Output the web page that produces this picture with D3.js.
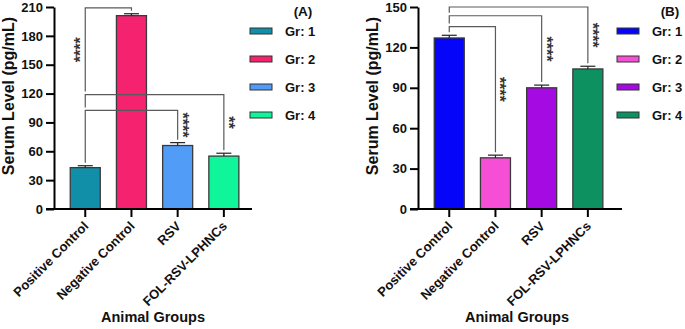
<!DOCTYPE html>
<html>
<head>
<meta charset="utf-8">
<script src="https://cdn.jsdelivr.net/npm/d3@7"></script>
<style>
  body { margin: 0; background: #fff; }
  text { font-family: "Liberation Sans", Arial, sans-serif; font-weight: bold; }
</style>
</head>
<body>
<script>
// categories and legend
const groups = ["Positive Control", "Negative Control", "RSV", "FOL-RSV-LPHNCs"];
const legendLabels = ["Gr: 1", "Gr: 2", "Gr: 3", "Gr: 4"];

// panel A values (mean, SD)
const valuesA = [43, 201, 66, 55];
const errorsA = [2, 2, 3, 3];
const ticksA = [0, 30, 60, 90, 120, 150, 180, 210];
const colorsA = ["#128fa8", "#f5236f", "#519cf7", "#0ff59a"];
// significance brackets: from group, to group, level (pg/mL), label, side of the stars
const bracketsA = [
    [0, 1, 209, "****", "left"],
    [0, 3, 119, "**", "right"],
    [0, 2, 102.5, "****", "right"]
];

// panel B values
const valuesB = [127, 38, 90, 104];
const errorsB = [2, 2, 2, 2];
const ticksB = [0, 30, 60, 90, 120, 150];
const colorsB = ["#0505fa", "#f550d5", "#a60ae2", "#0e9160"];
const bracketsB = [
    [0, 3, 150, "****", "right"],
    [0, 2, 143.5, "****", "right"],
    [0, 1, 135.5, "****", "right"]
];

const svg = d3.select("body")
    .append("svg")
    .attr("width", 685)
    .attr("height", 329);

drawPanel({
    left: 54, width: 198, legendLeft: 196, tag: "(A)",
    values: valuesA, errors: errorsA, ticks: ticksA, colors: colorsA, brackets: bracketsA
});
drawPanel({
    left: 418, width: 204, legendLeft: 199, tag: "(B)",
    values: valuesB, errors: errorsB, ticks: ticksB, colors: colorsB, brackets: bracketsB
});

function drawPanel(p) {
    const top = 7, bottom = 209;
    const g = svg.append("g").attr("transform", `translate(${p.left},0)`);

    const x = d3.scaleBand()
        .domain(groups)
        .range([7, 7 + 46.2 * (4 - 0.35 + 0.4)])
        .paddingInner(0.35)
        .paddingOuter(0.2);

    const y = d3.scaleLinear()
        .domain([0, d3.max(p.ticks)])
        .range([bottom, top]);

    //Y axis
    const yAxis = g.append("g")
        .call(d3.axisLeft(y).tickValues(p.ticks).tickSize(8).tickPadding(3).tickSizeOuter(0));
    yAxis.select(".domain").attr("stroke", "#000").attr("stroke-width", 2);
    yAxis.selectAll(".tick line").attr("stroke", "#000").attr("stroke-width", 2);
    yAxis.selectAll(".tick text")
        .attr("font-size", 13)
        .attr("font-family", "Liberation Sans, Arial, sans-serif")
        .attr("font-weight", "bold")
        .attr("fill", "#111");

    //Bars
    g.selectAll("rect.bar")
        .data(p.values)
        .enter()
        .append("rect")
        .attr("class", "bar")
        .attr("x", (d, i) => x(groups[i]))
        .attr("y", d => y(d))
        .attr("width", x.bandwidth())
        .attr("height", d => y(0) - y(d))
        .attr("fill", (d, i) => p.colors[i])
        .attr("stroke", "#3a3a3a")
        .attr("stroke-width", 1.3);

    //Error bars
    const eb = g.selectAll("g.err")
        .data(p.values)
        .enter()
        .append("g")
        .attr("class", "err")
        .attr("stroke", "#222")
        .attr("stroke-width", 1.2);
    eb.append("line")
        .attr("x1", (d, i) => x(groups[i]) + x.bandwidth() / 2)
        .attr("x2", (d, i) => x(groups[i]) + x.bandwidth() / 2)
        .attr("y1", d => y(d))
        .attr("y2", (d, i) => y(d + p.errors[i]));
    eb.append("line")
        .attr("x1", (d, i) => x(groups[i]) + x.bandwidth() / 2 - 7.5)
        .attr("x2", (d, i) => x(groups[i]) + x.bandwidth() / 2 + 7.5)
        .attr("y1", (d, i) => y(d + p.errors[i]))
        .attr("y2", (d, i) => y(d + p.errors[i]));

    //X axis (line runs from the y tick to the right end)
    g.append("line")
        .attr("x1", -8).attr("x2", p.width)
        .attr("y1", bottom).attr("y2", bottom)
        .attr("stroke", "#000").attr("stroke-width", 2);
    groups.forEach(function (name) {
        const cx = x(name) + x.bandwidth() / 2;
        g.append("line")
            .attr("x1", cx).attr("x2", cx)
            .attr("y1", bottom).attr("y2", bottom + 8)
            .attr("stroke", "#000").attr("stroke-width", 2);
        g.append("text")
            .attr("transform", `translate(${cx + 4},${bottom + 18}) rotate(-45)`)
            .attr("text-anchor", "end")
            .attr("font-size", 13)
            .attr("fill", "#111")
            .text(name);
    });

    //Significance brackets
    const cxOf = i => x(groups[i]) + x.bandwidth() / 2;
    p.brackets.forEach(function (b) {
        const [a, c, level, label, side] = b;
        const by = y(level);
        // leg ends: just above the next lower bracket on that bar, else above the error bar
        const legEnd = function (idx) {
            const lower = p.brackets
                .filter(o => o[2] < level && (o[0] === idx || o[1] === idx))
                .map(o => o[2]);
            if (lower.length) return y(d3.max(lower)) - 3;
            return y(p.values[idx] + p.errors[idx]) - 3;
        };
        const endA = legEnd(a), endC = legEnd(c);
        g.append("path")
            .attr("d", `M${cxOf(a)},${endA}V${by}H${cxOf(c)}V${endC}`)
            .attr("fill", "none")
            .attr("stroke", "#5a5a5a")
            .attr("stroke-width", 1.2);
        const onLeft = side === "left";
        const lx = onLeft ? cxOf(a) : cxOf(c);
        const ly = onLeft ? (by + endA) / 2 : (by + endC) / 2;
        g.append("text")
            .attr("transform", `translate(${lx + (onLeft ? 1 : -1)},${ly}) rotate(${onLeft ? -90 : 90})`)
            .attr("text-anchor", "middle")
            .attr("font-size", 16)
            .attr("fill", "#333")
            .text(label);
    });

    //Legend
    const lg = g.append("g").attr("transform", `translate(${p.legendLeft},0)`);
    lg.append("text")
        .attr("x", 53).attr("y", 16)
        .attr("text-anchor", "middle")
        .attr("font-size", 13.5)
        .attr("fill", "#111")
        .text(p.tag);
    legendLabels.forEach(function (lab, i) {
        const ly = 31 + i * 28;
        lg.append("rect")
            .attr("x", 0).attr("y", ly - 3)
            .attr("width", 22).attr("height", 6)
            .attr("fill", p.colors[i])
            .attr("stroke", "#333")
            .attr("stroke-width", 1);
        lg.append("text")
            .attr("x", 35).attr("y", ly + 5)
            .attr("font-size", 13)
            .attr("fill", "#111")
            .text(lab);
    });

    //Axis titles
    g.append("text")
        .attr("transform", `translate(-40,${(top + 177) / 2 + 4}) rotate(-90)`)
        .attr("text-anchor", "middle")
        .attr("font-size", 16)
        .attr("fill", "#111")
        .text("Serum Level (pg/mL)");
    g.append("text")
        .attr("x", 99).attr("y", 322)
        .attr("text-anchor", "middle")
        .attr("font-size", 14.5)
        .attr("fill", "#111")
        .text("Animal Groups");
}
</script>
</body>
</html>
